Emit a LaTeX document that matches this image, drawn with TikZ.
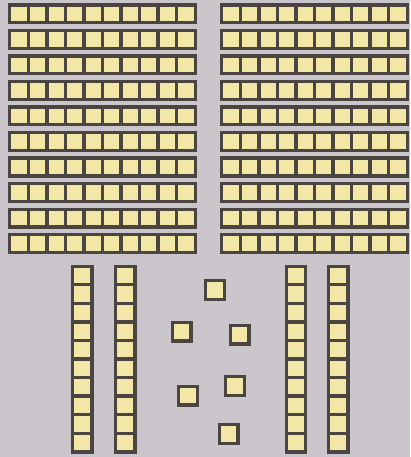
\documentclass[tikz,border=0pt]{standalone}
\definecolor{bg}{HTML}{CBC6CB}
\definecolor{cubefill}{HTML}{F3E7A8}
\definecolor{edge}{HTML}{4A4540}
\begin{document}
\begin{tikzpicture}[x=1pt,y=-1pt,
  blk/.style={draw=edge,fill=cubefill,line width=3.4pt,line join=miter},
  divider/.style={draw=edge,line width=3.4pt}]
\fill[bg] (0,0) rectangle (410,457);
\useasboundingbox (0,0) rectangle (410,457);
% horizontal ten-rods, two blocks of ten
\foreach \x in {8,220}{
  \foreach \i in {0,...,9}{
    \pgfmathsetmacro\y{3.5+25.5*\i}
    \draw[blk] (\x+1.7,\y+1.7) rectangle (\x+187.3,\y+19.3);
    \foreach \k in {1,...,9}
      \draw[divider] ({\x+1.7+\k*18.56},\y+1.7) -- ++(0,17.6);
  }
}
% vertical ten-rods
\foreach \x in {71,114,284.5,327}{
  \draw[blk] (\x+1.7,264.5+1.7) rectangle (\x+22.5-1.7,453.5-1.7);
  \foreach \k in {1,...,9}
    \draw[divider] (\x+1.7,{266.2+\k*18.56}) -- ++(19.1,0);
}
% single units
\foreach \x/\y in {204/279,170.5/320.5,228.5/323.5,224/375,177/384.5,217.5/423}{
  \draw[blk] (\x+1.7,\y+1.7) rectangle (\x+22-1.7,\y+22-1.7);
}
\end{tikzpicture}
\end{document}
